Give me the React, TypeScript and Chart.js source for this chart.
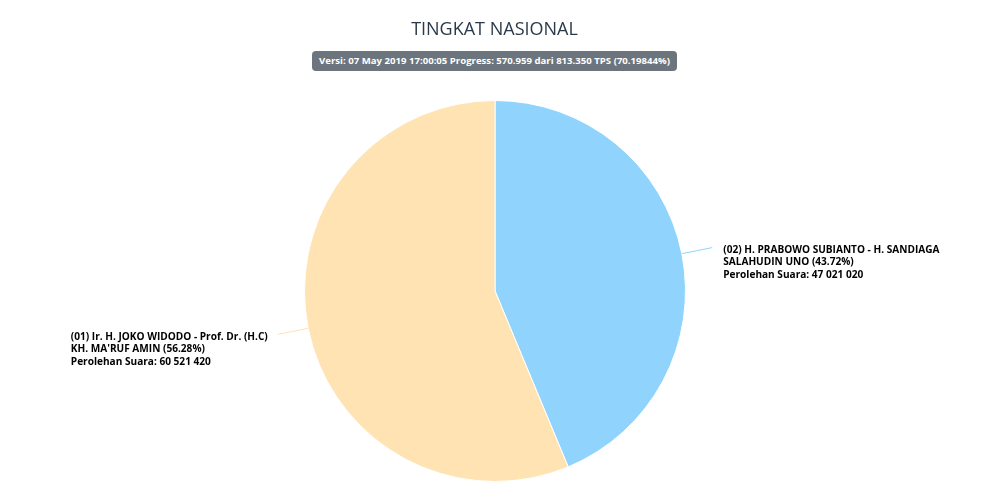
import { useEffect, useRef } from "react"
import { Chart, registerables, ArcElement } from "chart.js"

Chart.register(...registerables)

// candidates in drawing order (starting at 12 o'clock, clockwise)
const candidateNames = [
  ["(02) H. PRABOWO SUBIANTO - H. SANDIAGA", "SALAHUDIN UNO"],
  ["(01) Ir. H. JOKO WIDODO - Prof. Dr. (H.C)", "KH. MA'RUF AMIN"],
]
const votes = [47021020, 60521420]
const sliceColors = ["#90d4fd", "#ffe3b3"]

const chartTitle = "TINGKAT NASIONAL"
const versionText = "Versi: 07 May 2019 17:00:05 Progress: 570.959 dari 813.350 TPS (70.19844%)"

const LABEL_FONT = "bold 10.1px 'Open Sans'"

function formatVotes(n: number) {
  return String(n).replace(/\B(?=(\d{3})+(?!\d))/g, " ")
}

// draws highcharts-like data labels with connector lines
const pieLabels = {
  id: "pieLabels",
  afterDatasetsDraw(chart: Chart) {
    const ctx = chart.ctx
    const meta = chart.getDatasetMeta(0)
    const total = votes.reduce((a, b) => a + b, 0)
    ctx.save()
    ctx.font = LABEL_FONT
    ctx.textBaseline = "middle"
    meta.data.forEach((el, i) => {
      const arc = el as ArcElement
      const { x, y, startAngle, endAngle, outerRadius } = arc.getProps(
        ["x", "y", "startAngle", "endAngle", "outerRadius"],
        true
      )
      const mid = (startAngle + endAngle) / 2
      const cos = Math.cos(mid)
      const sin = Math.sin(mid)
      const x0 = x + cos * outerRadius
      const y0 = y + sin * outerRadius
      const x1 = x + cos * (outerRadius + 31)
      const y1 = y + sin * (outerRadius + 31)

      ctx.strokeStyle = sliceColors[i]
      ctx.lineWidth = 1
      ctx.beginPath()
      ctx.moveTo(x0, y0)
      ctx.lineTo(x1, y1)
      ctx.stroke()

      const pct = ((votes[i] / total) * 100).toFixed(2)
      const lines = [
        candidateNames[i][0],
        candidateNames[i][1] + " (" + pct + "%)",
        "Perolehan Suara: " + formatVotes(votes[i]),
      ]
      const widest = Math.max(...lines.map((l) => ctx.measureText(l).width))
      const left = cos >= 0 ? x1 + 11 : x1 - 10 - widest
      ctx.fillStyle = "#000000"
      ctx.textAlign = "left"
      lines.forEach((l, k) => {
        ctx.fillText(l, left, y1 + 2.5 + k * 12.5)
      })
    })
    ctx.restore()
  },
}

function PieChart() {
  const chartRef = useRef<HTMLCanvasElement>(null)
  const chartInstance = useRef<Chart | null>(null)

  useEffect(() => {
    if (!chartRef.current) return
    if (chartInstance.current) {
      chartInstance.current.destroy()
    }
    const ctx = chartRef.current.getContext("2d")
    if (!ctx) return

    chartInstance.current = new Chart(ctx, {
      type: "pie",
      data: {
        labels: candidateNames.map((n) => n.join(" ")),
        datasets: [
          {
            data: votes,
            backgroundColor: sliceColors,
            borderColor: "#ffffff",
            borderWidth: 1,
          },
        ],
      },
      options: {
        animation: false,
        responsive: true,
        maintainAspectRatio: false,
        layout: {
          padding: { top: 100, bottom: 13, left: 300, right: 299 },
        },
        plugins: {
          legend: { display: false },
          tooltip: { enabled: false },
        },
      },
      plugins: [pieLabels],
    })

    return () => {
      if (chartInstance.current) {
        chartInstance.current.destroy()
        chartInstance.current = null
      }
    }
  }, [])

  return <canvas ref={chartRef} />
}

export default function App() {
  return (
    <div
      style={{
        position: "absolute",
        left: 0,
        top: 0,
        width: 989,
        height: 495,
        background: "#ffffff",
        fontFamily: "'Open Sans', sans-serif",
      }}
    >
      <div style={{ position: "absolute", inset: 0 }}>
        <PieChart />
      </div>
      <div
        style={{
          position: "absolute",
          top: 16,
          left: 0,
          width: 989,
          textAlign: "center",
          fontSize: 18,
          lineHeight: "24px",
          color: "#2b3a4a",
        }}
      >
        {chartTitle}
      </div>
      <div style={{ position: "absolute", top: 47, left: 0, width: 989, textAlign: "center" }}>
        <span
          style={{
            display: "inline-block",
            background: "#6c757d",
            color: "#ffffff",
            fontWeight: 700,
            fontSize: 9.6,
            lineHeight: "20px",
            padding: "0 7px",
            borderRadius: 4,
          }}
        >
          {versionText}
        </span>
      </div>
    </div>
  )
}
